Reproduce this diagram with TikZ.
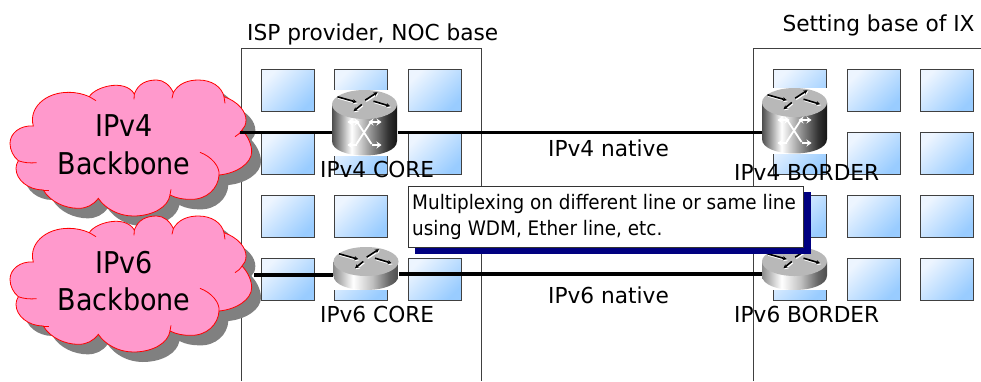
\documentclass[tikz,border=0pt]{standalone}
\usepackage{fontspec}
\setmainfont{DejaVu Sans}[FakeStretch=0.90]
\newfontfamily\midfont{DejaVu Sans}[FakeStretch=0.985]
\newfontfamily\notefont{DejaVu Sans}[FakeStretch=0.92]
\definecolor{cloudpink}{HTML}{FF99CC}
\definecolor{boxedge}{HTML}{404040}
\definecolor{sqlight}{HTML}{EDF5FF}
\definecolor{sqdark}{HTML}{99CCFF}
\definecolor{navyshadow}{HTML}{000080}
\pgfdeclarehorizontalshading{bigcyl}{100bp}{color(0bp)=(black!72); color(25bp)=(black!70); color(40bp)=(white); color(52bp)=(black!35); color(68bp)=(black!80); color(75bp)=(black!92); color(100bp)=(black!92)}
\pgfdeclarehorizontalshading{smallcyl}{100bp}{color(0bp)=(black!45); color(25bp)=(black!45); color(40bp)=(white); color(55bp)=(black!25); color(68bp)=(black!60); color(75bp)=(black!70); color(100bp)=(black!70)}
\newcommand{\sqbox}[2]{\shade[squarebox] (#1,#2) rectangle ++(53,42);\draw[squareedge] (#1,#2) rectangle ++(53,42);}
\newcommand{\cloudoutline}{(100,258) .. controls (85,205) and (135,157) .. (205,157) .. controls (230,157) and (250,162) .. (268,170)
 .. controls (285,140) and (375,115) .. (403,162)
 .. controls (415,130) and (440,120) .. (470,120) .. controls (490,120) and (510,135) .. (520,158)
 .. controls (535,130) and (565,120) .. (595,120) .. controls (635,120) and (665,140) .. (672,170)
 .. controls (715,185) and (738,215) .. (738,240) .. controls (738,255) and (733,262) .. (726,270)
 .. controls (745,290) and (755,315) .. (755,335) .. controls (755,370) and (710,400) .. (657,405)
 .. controls (655,445) and (620,480) .. (570,478) .. controls (550,478) and (530,475) .. (510,465)
 .. controls (505,500) and (460,528) .. (400,528) .. controls (355,528) and (315,505) .. (295,475)
 .. controls (280,495) and (260,505) .. (235,505) .. controls (195,505) and (150,485) .. (130,450)
 .. controls (85,450) and (48,420) .. (48,385) .. controls (48,378) and (50,370) .. (55,362)
 .. controls (40,350) and (30,330) .. (30,310) .. controls (30,280) and (60,255) .. (100,258) -- cycle}
\newcommand{\cloudshape}[1]{%
 \begin{scope}[shift={(0,#1)},x=0.33333pt,y=-0.33333pt]
  \fill[cloudshadow,shift={(28,30)}] \cloudoutline;
 \end{scope}}
\newcommand{\cloudfront}[1]{%
 \begin{scope}[shift={(0,#1)},x=0.33333pt,y=-0.33333pt]
  \fill[cloudpink] \cloudoutline;
  \draw[cloudedge] \cloudoutline;
  \draw[cloudedge] (55,362) .. controls (70,368) and (90,370) .. (110,368);
  \draw[cloudedge] (130,450) -- (148,450);
  \draw[cloudedge] (510,465) -- (513,448);
  \draw[cloudedge] (600,337) .. controls (635,350) and (660,380) .. (657,405);
  \draw[cloudedge] (726,270) .. controls (720,280) and (713,285) .. (705,290);
  \draw[cloudedge] (672,170) -- (675,190);
  \draw[cloudedge] (268,170) -- (288,182);
  \draw[cloudedge] (403,162) -- (402,178);
  \draw[cloudedge] (520,158) -- (516,175);
 \end{scope}}
% x centre, y of top ellipse centre, body height, shading
\newcommand{\routerbase}[4]{%
 \begin{scope}[shift={(#1,#2)}]
  \fill[white] (-33,-14.5) rectangle (33,#3+14.5);
  \shade[shading=#4] (-32.5,0) -- (-32.5,#3) .. controls (-32.5,#3+19.3) and (32.5,#3+19.3) .. (32.5,#3) -- (32.5,0) -- cycle;
  \fill[black!28] (0,0) ellipse [x radius=32.5pt,y radius=14.5pt];
  \foreach \ax/\ay/\bx/\by in {-27/-7.7/-7.7/-2.3,0.7/-4.3/13/-12.3,9/-3.3/25.7/1.7,-2.7/0/-11/6.7}{
   \draw[white,line width=1.8pt,-{Stealth[length=4pt,width=4pt]}] (\ax+0.8,\ay+1.1) -- (\bx+0.8,\by+1.1);
   \draw[black,line width=1.6pt,-{Stealth[length=4pt,width=4pt]}] (\ax,\ay) -- (\bx,\by);
  }
 \end{scope}}
\newcommand{\crossarrows}[2]{%
 \begin{scope}[shift={(#1,#2)},white,line width=1.8pt]
  \draw (-8,-1) -- (7,22);
  \draw (7,-1) -- (-8,22);
  \draw[{Stealth[length=5pt,width=7pt]}-{Stealth[length=5pt,width=7pt]}] (-17,0) -- (-5,0);
  \draw[{Stealth[length=5pt,width=7pt]}-{Stealth[length=5pt,width=7pt]}] (4,0) -- (17,0);
  \draw[{Stealth[length=5pt,width=7pt]}-] (-17,23) -- (-8,23);
  \draw[{Stealth[length=5pt,width=7pt]}-] (17,23) -- (7,23);
 \end{scope}}
\usetikzlibrary{arrows.meta}
\tikzset{
 squarebox/.style={top color=sqlight,bottom color=sqdark,shading angle=45},
 squareedge/.style={draw=black!75,line width=0.9pt},
 sitebox/.style={draw=boxedge,line width=1pt},
 cloudshadow/.style={fill=black!50},
 cloudedge/.style={draw=red,line width=0.8pt},
 routerframe/.style={inner sep=0pt,minimum width=65pt},
 link/.style={black,line width=3.2pt},
 biglabel/.style={font=\fontsize{30}{37.7}\selectfont,align=center,inner sep=0pt},
 midlabel/.style={font=\midfont\fontsize{22}{26}\selectfont,anchor=base west,inner sep=0pt},
 smalllabel/.style={font=\notefont\fontsize{20}{26.5}\selectfont,align=left,inner sep=0pt,anchor=north west},
 callout/.style={draw=black!80,fill=white,line width=0.8pt,inner sep=0pt,anchor=north west,minimum width=395.3pt,minimum height=60.8pt},
 calloutshadow/.style={fill=navyshadow,inner sep=0pt,anchor=north west,minimum width=396pt,minimum height=62pt},
}
\begin{document}
\begin{tikzpicture}[x=1pt,y=-1pt]
\useasboundingbox (0,0) rectangle (981,381);
% site outlines
\draw[sitebox] (241,381) -- (241,48.7) -- (481,48.7) -- (481,381);
\draw[sitebox] (753.3,381) -- (753.3,48.7) -- (981,48.7);
% tiles
\foreach \cx in {261.5,334.7,408}{\foreach \cy in {69.7,132.5,195.5,258}{\sqbox{\cx}{\cy}}}
\foreach \cx in {773.7,847,920}{\foreach \cy in {69.7,132.5,195.5,258}{\sqbox{\cx}{\cy}}}
% clouds
\cloudshape{40}
\cloudfront{40}
\cloudshape{176}
\cloudfront{176}
\node[biglabel] (cloudfour) at (124,145) {IPv4\\Backbone};
\node[biglabel] (cloudsix) at (124,281) {IPv6\\Backbone};
\coordinate (fourout) at (239.5,132.5);
\coordinate (sixout) at (254,275);
% router frames and links
\node[routerframe,minimum height=66pt,anchor=north] (corefour) at (364.5,90) {};
\node[routerframe,minimum height=43pt,anchor=north] (coresix) at (366,247) {};
\node[routerframe,minimum height=66pt,anchor=north] (borderfour) at (794.5,88) {};
\node[routerframe,minimum height=43pt,anchor=north] (bordersix) at (794.5,247) {};
\draw[link] (fourout) -- (fourout -| corefour.center);
\draw[link] (fourout -| corefour.center) -- (fourout -| borderfour.center);
\draw[link] (sixout) -- (sixout -| coresix.center);
\draw[link] (coresix.center |- 0,274) -- (bordersix.center |- 0,274);
% routers
\routerbase{364.5}{104.5}{36.5}{bigcyl}\crossarrows{364.5}{122}
\routerbase{366}{261.5}{14}{smallcyl}
\routerbase{794.5}{102.5}{36.5}{bigcyl}\crossarrows{794.5}{120}
\routerbase{794.5}{261.5}{14}{smallcyl}
% labels
\node[midlabel] (hdrisp) at (247,40) {ISP provider, NOC base};
\node[midlabel] (hdrix) at (782.3,31) {Setting base of IX};
\node[midlabel] (lblcorefour) at (320,177.3) {IPv4 CORE};
\node[midlabel] (lblcoresix) at (320,322.7) {IPv6 CORE};
\node[midlabel] (lblborderfour) at (734,180.7) {IPv4 BORDER};
\node[midlabel] (lblbordersix) at (734,322.7) {IPv6 BORDER};
\node[midlabel] (lblnativefour) at (548,156.7) {IPv4 native};
\node[midlabel] (lblnativesix) at (548,303.3) {IPv6 native};
% callout
\node[calloutshadow] (noteshadow) at (415,192) {};
\node[callout] (notebox) at (408,185.7) {};
\node[smalllabel] (notetext) at (412,194) {Multiplexing on different line or same line\\using WDM, Ether line, etc.};
\end{tikzpicture}
\end{document}
